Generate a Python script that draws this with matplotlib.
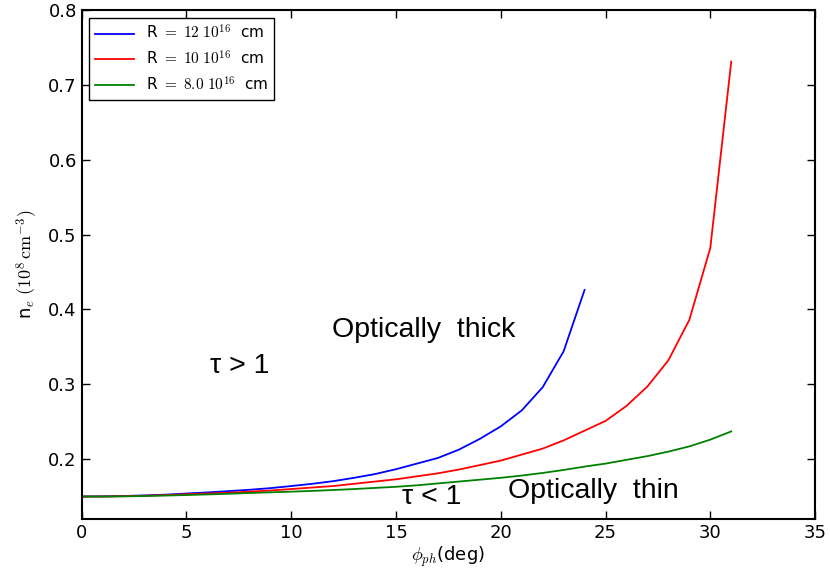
import numpy as np
import matplotlib
matplotlib.use("Agg")
import matplotlib.pyplot as plt

plt.rcParams['mathtext.fontset'] = 'cm'

# photospheric angle (deg)
phi_r12 = list(range(0, 25))
phi_r10 = list(range(0, 32))
phi_r8 = list(range(0, 32))

# electron density (10^8 cm^-3)
ne_r12 = [0.150, 0.1502, 0.1507, 0.1515, 0.1525, 0.154, 0.1555, 0.1572, 0.159,
          0.1612, 0.164, 0.167, 0.1705, 0.175, 0.180, 0.1865, 0.194, 0.2015,
          0.2126, 0.227, 0.2437, 0.265, 0.296, 0.344, 0.426]
ne_r10 = [0.150, 0.150, 0.1505, 0.151, 0.152, 0.153, 0.154, 0.155, 0.1565,
          0.158, 0.160, 0.162, 0.164, 0.167, 0.170, 0.173, 0.177, 0.181,
          0.186, 0.192, 0.198, 0.206, 0.214, 0.225, 0.238, 0.251, 0.271,
          0.297, 0.332, 0.386, 0.482, 0.731]
ne_r8 = [0.150, 0.150, 0.1502, 0.1507, 0.1513, 0.152, 0.1528, 0.1537, 0.1547,
         0.1556, 0.1565, 0.1575, 0.1587, 0.160, 0.1615, 0.163, 0.165, 0.1675,
         0.170, 0.1725, 0.175, 0.178, 0.1815, 0.1855, 0.190, 0.194, 0.199,
         0.204, 0.210, 0.217, 0.226, 0.237]

labels = [r'R $=\ 12\ 10^{16}$  cm', r'R $=\ 10\ 10^{16}$  cm', r'R $=\ 8.0\ 10^{16}$  cm']

fig = plt.figure(figsize=(8.3, 5.71), dpi=100)
ax = fig.add_axes([0.0984, 0.0911, 0.8836, 0.8914])

ax.plot(phi_r12, ne_r12, color='b', lw=1.3, label=labels[0])
ax.plot(phi_r10, ne_r10, color='r', lw=1.3, label=labels[1])
ax.plot(phi_r8, ne_r8, color='g', lw=1.3, label=labels[2])

ax.set_xlim(0, 35)
ax.set_ylim(0.12, 0.8)
ax.set_yticks([0.2, 0.3, 0.4, 0.5, 0.6, 0.7, 0.8])
ax.tick_params(direction='in', top=True, right=True, labelsize=13, length=6, width=1)
for s in ax.spines.values():
    s.set_linewidth(1.5)

ax.set_xlabel(r'$\phi_{ph}$(deg)', fontsize=13, labelpad=2)
ax.set_ylabel(r'n$_e$ $(10^8\,\mathrm{cm}^{-3})$', fontsize=13, labelpad=6)

ann = dict(fontsize=20.5, family='Liberation Sans', va='center')
ax.text(11.93, 0.373, 'Optically  thick', **ann)
ax.text(6.13, 0.325, u'\u03c4 > 1', **ann)
ax.text(15.3, 0.150, u'\u03c4 < 1', **ann)
ax.text(20.35, 0.157, 'Optically  thin', **ann)

leg = ax.legend(loc='upper left', fontsize=11, fancybox=False, framealpha=1,
                edgecolor='black', borderaxespad=0.5, handlelength=2.5)
leg.get_frame().set_linewidth(1.0)

fig.savefig('out.png', dpi=100)
